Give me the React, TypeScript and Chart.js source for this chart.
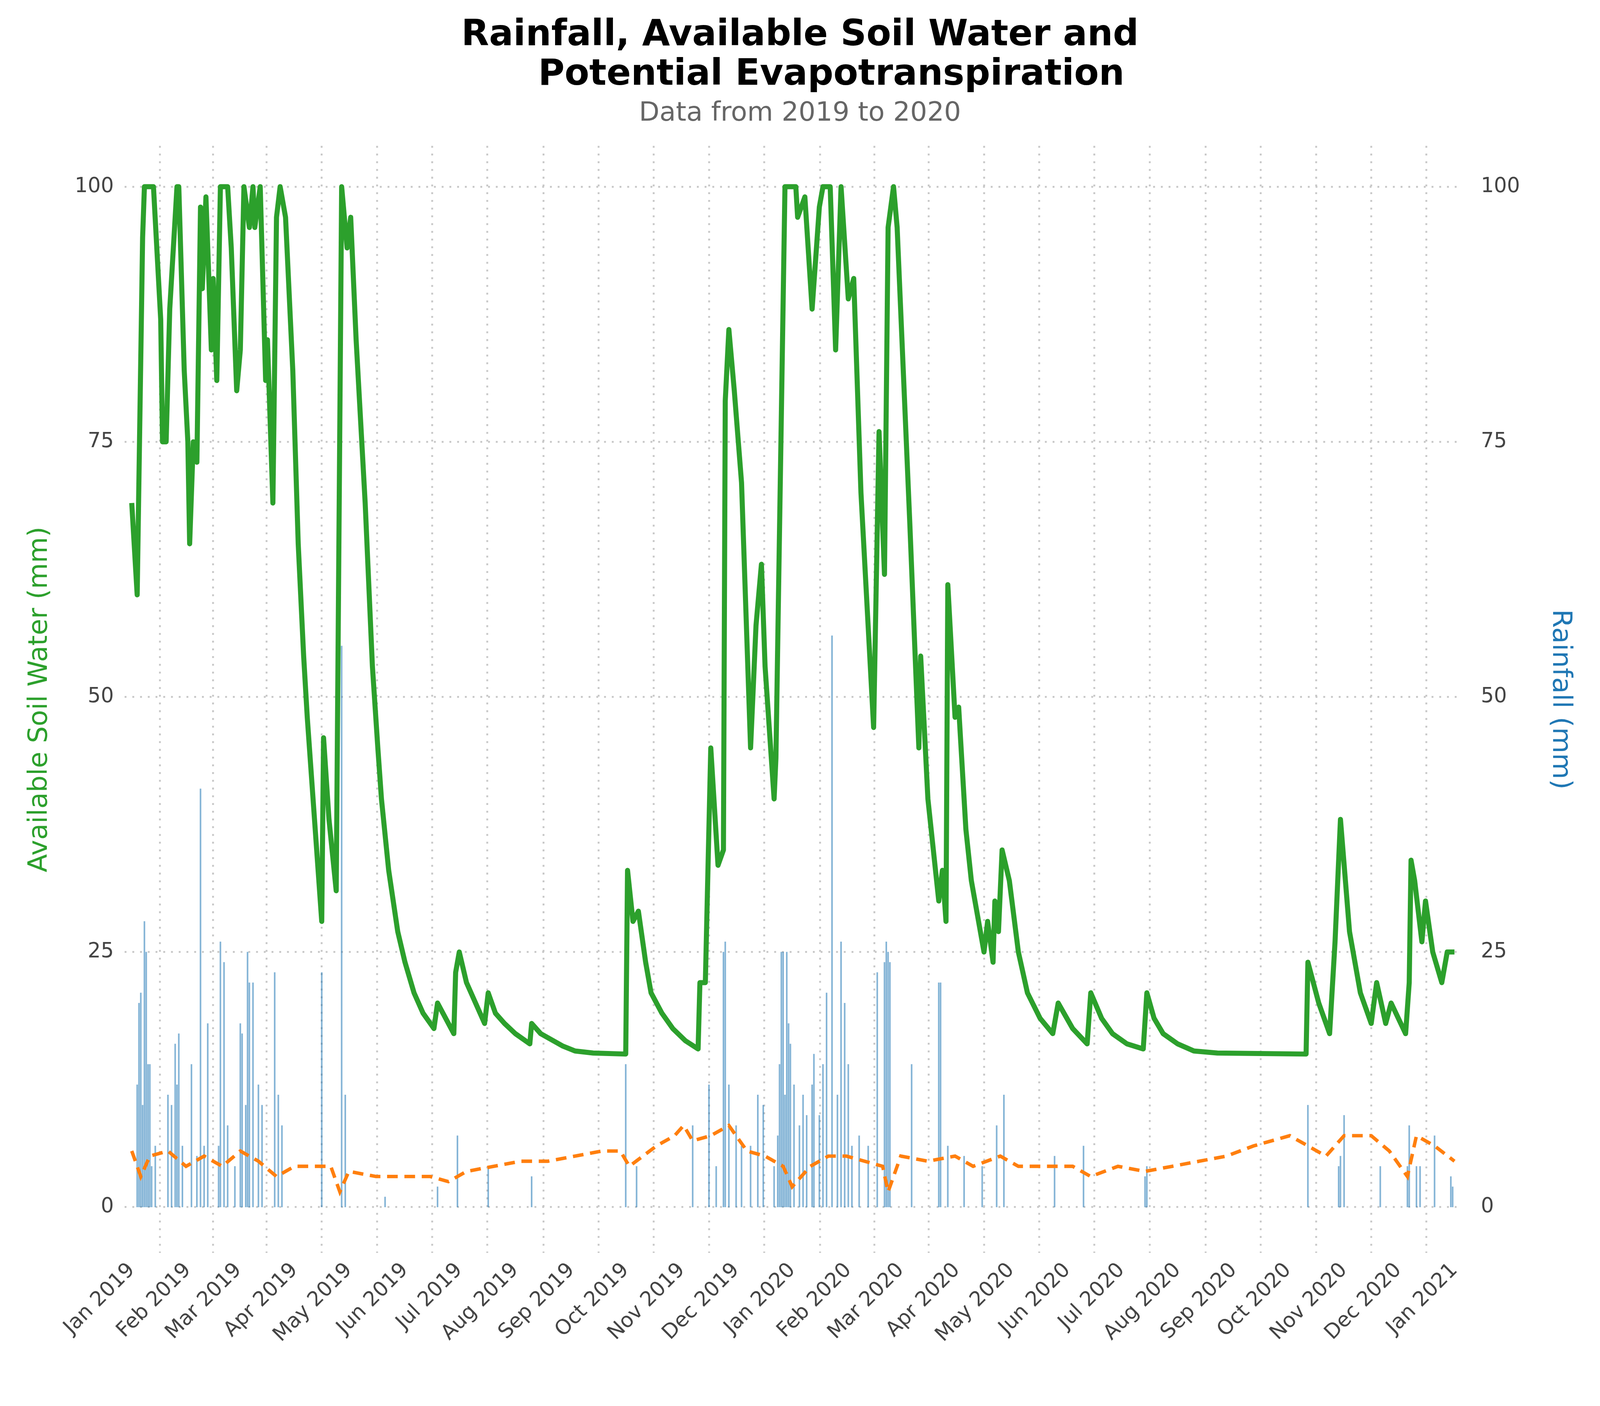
import { useEffect, useRef } from 'react';
import { Chart, registerables } from 'chart.js';

Chart.register(...registerables);

const FONT = "'DejaVu Sans', sans-serif";

// month tick positions (days since 1 Jan 2019) and labels
const monthDays = [0, 31, 59, 90, 120, 151, 181, 212, 243, 273, 304, 334, 365, 396, 425, 456, 486, 517, 547, 578, 609, 639, 670, 700, 731];
const monthLabels = [
  'Jan 2019', 'Feb 2019', 'Mar 2019', 'Apr 2019', 'May 2019', 'Jun 2019', 'Jul 2019', 'Aug 2019', 'Sep 2019', 'Oct 2019', 'Nov 2019', 'Dec 2019',
  'Jan 2020', 'Feb 2020', 'Mar 2020', 'Apr 2020', 'May 2020', 'Jun 2020', 'Jul 2020', 'Aug 2020', 'Sep 2020', 'Oct 2020', 'Nov 2020', 'Dec 2020', 'Jan 2021',
];

// available soil water [day, mm]
const soilWater: [number, number][] = [
  [0, 69], [3, 60], [6, 95], [7, 100], [12, 100], [16, 87], [17, 75], [19, 75], [21, 88], [25, 100], [26, 100], [29, 82], [31, 75], [32, 65], [34, 75], [36, 73],
  [38, 98], [39, 90], [41, 99], [44, 84], [45, 91], [47, 81], [49, 100], [53, 100], [55, 94], [58, 80], [60, 84], [62, 100], [65, 96], [67, 100], [68, 96],
  [71, 100], [74, 81], [75, 85], [78, 69], [80, 97], [82, 100], [85, 97], [89, 82], [92, 65], [95, 54], [97, 48], [101, 38], [105, 28], [106, 46], [109, 38], [113, 31],
  [116, 100], [119, 94], [121, 97], [124, 85], [129, 69], [133, 53], [136, 45], [138, 40], [142, 33], [147, 27], [151, 24], [156, 21], [161, 19], [167, 17.5], [169, 20], [178, 17], [179, 23],
  [181, 25], [185, 22], [190, 20], [195, 18], [197, 21], [201, 19], [206, 18], [212, 17], [220, 16], [221, 18], [226, 17], [231, 16.5], [238, 15.8], [245, 15.3], [255, 15.1], [273, 15], [274, 33], [277, 28], [280, 29], [284, 24], [287, 21],
  [293, 19], [299, 17.5], [306, 16.3], [313, 15.5], [314, 22], [317, 22], [320, 45], [324, 33.5], [327, 35], [328, 79], [330, 86], [333, 80], [337, 71], [342, 45], [345, 57], [348, 63],
  [350, 53], [355, 40], [356, 44], [361, 100], [367, 100], [368, 97], [372, 99], [376, 88], [380, 98], [382, 100], [386, 100], [389, 84], [392, 100], [396, 89],
  [399, 91], [403, 70], [410, 47], [413, 76], [416, 62], [418, 96], [421, 100], [423, 96], [430, 67], [435, 45], [436, 54], [440, 40], [446, 30], [448, 33],
  [450, 28], [451, 61], [455, 48], [457, 49], [461, 37], [464, 32], [471, 25], [473, 28], [476, 24], [477, 30], [479, 27], [481, 35], [485, 32], [490, 25], [495, 21],
  [502, 18.5], [509, 17], [512, 20], [520, 17.5], [528, 16], [530, 21], [536, 18.5], [542, 17], [550, 16], [559, 15.5], [561, 21], [565, 18.5], [570, 17], [578, 16], [587, 15.3], [600, 15.1], [649, 15], [650, 24], [656, 20], [662, 17], [665, 26], [668, 38],
  [673, 27], [679, 21], [685, 18], [688, 22], [693, 18], [696, 20], [704, 17], [706, 22], [707, 34], [709, 32], [713, 26], [715, 30], [719, 25], [724, 22], [727, 25], [731, 25],
];

// potential evapotranspiration [day, mm]
const pet: [number, number][] = [
  [0, 5.5], [5, 3], [10, 5], [20, 5.5], [30, 4], [40, 5], [50, 4], [60, 5.5], [70, 4.5], [80, 3], [90, 4], [100, 4], [110, 4], [115, 1.5], [120, 3.5], [135, 3],
  [150, 3], [165, 3], [175, 2.5], [185, 3.5], [200, 4], [215, 4.5], [230, 4.5], [245, 5], [260, 5.5], [270, 5.5], [275, 4], [290, 6], [300, 7], [305, 8],
  [310, 6.5], [320, 7], [330, 8], [340, 5.5], [350, 5], [360, 4], [365, 2], [375, 4], [385, 5], [395, 5], [405, 4.5], [415, 4], [418, 1.5], [425, 5], [440, 4.5],
  [455, 5], [465, 4], [480, 5], [490, 4], [505, 4], [520, 4], [530, 3], [545, 4], [560, 3.5], [575, 4], [590, 4.5], [605, 5], [620, 6], [640, 7], [650, 6],
  [660, 5], [670, 7], [685, 7], [695, 5.5], [705, 3], [710, 7], [720, 6], [731, 4.5],
];

// daily rainfall [day, mm]
const rainfall: [number, number][] = [
  [3, 12], [4, 20], [5, 21], [6, 10], [7, 28], [8, 25], [9, 14], [10, 14], [11, 4], [13, 6], [20, 11], [22, 10], [24, 16], [25, 12], [26, 17], [28, 6], [33, 14],
  [36, 5], [38, 41], [40, 6], [42, 18], [48, 6], [49, 26], [51, 24], [53, 8], [57, 4], [60, 18], [61, 17], [63, 10], [64, 25], [65, 22], [67, 22], [70, 12],
  [72, 10], [79, 23], [81, 11], [83, 8], [105, 23], [116, 55], [118, 11], [140, 1], [169, 2], [180, 7], [197, 4], [221, 3], [273, 14], [279, 4], [310, 8],
  [319, 12], [323, 4], [327, 25], [328, 26], [330, 12], [334, 8], [337, 6], [342, 6], [346, 11], [349, 10], [355, 4], [357, 7], [358, 14], [359, 25], [360, 25],
  [361, 11], [362, 25], [363, 18], [364, 16], [366, 12], [369, 8], [371, 11], [373, 9], [376, 12], [377, 15], [380, 9], [382, 14], [384, 21], [387, 56], [390, 11],
  [392, 26], [394, 20], [396, 14], [398, 6], [402, 7], [407, 6], [412, 23], [416, 24], [417, 26], [418, 25], [419, 24], [431, 14], [446, 22], [447, 22], [451, 6],
  [460, 5], [470, 4], [478, 8], [482, 11], [510, 5], [526, 6], [560, 3], [561, 4], [650, 10], [667, 4], [668, 5], [670, 9], [690, 4], [705, 4], [706, 8],
  [710, 4], [712, 4], [720, 7], [729, 3], [730, 2],
];

const yTicks = [0, 25, 50, 75, 100];

export default function App() {
  const canvasRef = useRef<HTMLCanvasElement>(null);

  useEffect(() => {
    if (!canvasRef.current) return;
    document.body.style.margin = '0';
    // everything sized for a 6000px-wide page; scale to the real viewport
    const s = window.innerWidth / 6000;
    const grid = { color: '#c8c8c8', lineWidth: 7 * s, drawTicks: false };
    const border = { display: false, dash: [7 * s, 22 * s] };
    const tickFont = { family: FONT, size: 77 * s };
    const chart = new Chart(canvasRef.current, {
      type: 'bar',
      data: {
        datasets: [
          {
            type: 'line',
            label: 'Available Soil Water',
            data: soilWater.map(([x, y]) => ({ x, y })),
            borderColor: '#2ca02c',
            borderWidth: 19 * s,
            borderJoinStyle: 'round',
            pointRadius: 0,
            tension: 0,
            yAxisID: 'y',
            order: 1,
          },
          {
            type: 'line',
            label: 'PET',
            data: pet.map(([x, y]) => ({ x, y })),
            borderColor: '#ff7f0e',
            borderWidth: 13 * s,
            borderDash: [40 * s, 25 * s],
            pointRadius: 0,
            yAxisID: 'y',
            order: 2,
          },
          {
            type: 'bar',
            label: 'Rainfall',
            data: rainfall.map(([x, y]) => ({ x, y })),
            backgroundColor: 'rgba(31,119,180,0.55)',
            barThickness: 5 * s,
            yAxisID: 'y2',
            order: 3,
          },
        ],
      },
      options: {
        responsive: true,
        maintainAspectRatio: false,
        animation: false,
        layout: { padding: { left: 60 * s, right: 60 * s, top: 40 * s, bottom: 200 * s } },
        plugins: {
          legend: { display: false },
          tooltip: { enabled: false },
          title: {
            display: true,
            text: ['Rainfall, Available Soil Water and', '     Potential Evapotranspiration'],
            color: '#000',
            font: { family: FONT, size: 135 * s, weight: 'bold', lineHeight: 1.1 },
            padding: { top: 20 * s, bottom: 10 * s },
          },
          subtitle: {
            display: true,
            text: 'Data from 2019 to 2020',
            color: '#666',
            font: { family: FONT, size: 100 * s },
            padding: { bottom: 60 * s },
          },
        },
        scales: {
          x: {
            type: 'linear',
            min: -4,
            max: 735,
            offset: false,
            grid,
            border,
            afterBuildTicks: (axis) => { axis.ticks = monthDays.map(v => ({ value: v })); },
            ticks: {
              color: '#444',
              font: tickFont,
              maxRotation: 45,
              minRotation: 45,
              padding: 20 * s,
              autoSkip: false,
              callback: (v) => monthLabels[monthDays.indexOf(Number(v))] ?? '',
            },
          },
          y: {
            position: 'left',
            min: -4.5,
            max: 104,
            grid,
            border,
            afterBuildTicks: (axis) => { axis.ticks = yTicks.map(v => ({ value: v })); },
            ticks: { color: '#444', font: tickFont, padding: 40 * s },
            title: { display: true, text: 'Available Soil Water (mm)', color: '#2ca02c', font: { family: FONT, size: 100 * s }, padding: 30 * s },
          },
          y2: {
            position: 'right',
            min: -4.5,
            max: 104,
            grid: { display: false },
            border: { display: false },
            afterBuildTicks: (axis) => { axis.ticks = yTicks.map(v => ({ value: v })); },
            ticks: { color: '#444', font: tickFont, padding: 60 * s },
            title: { display: true, text: 'Rainfall (mm)', color: '#1f77b4', font: { family: FONT, size: 100 * s }, padding: 30 * s },
          },
        },
      },
    });
    return () => { chart.destroy(); };
  }, []);

  return (
    <div style={{ position: 'fixed', left: 0, top: 0, width: '100vw', height: '100vh', background: '#fff' }}>
      <canvas ref={canvasRef} />
    </div>
  );
}
